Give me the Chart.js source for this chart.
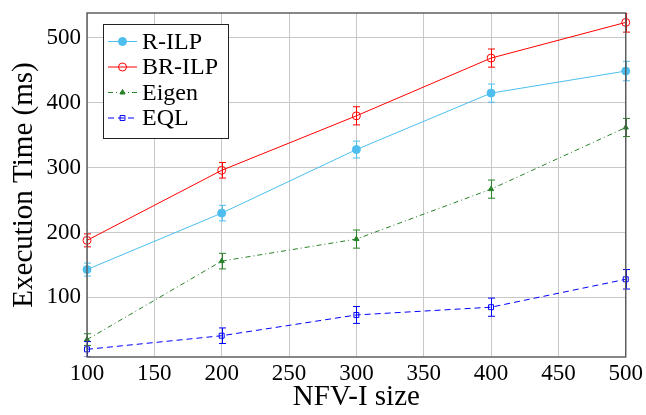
<!DOCTYPE html>
<html>
<head>
<meta charset="utf-8">
<script src="https://cdn.jsdelivr.net/npm/chart.js@4/dist/chart.umd.min.js"></script>
<style>
  html, body { margin: 0; padding: 0; background: #fff; }
  #wrap { width: 646px; height: 415px; }
</style>
</head>
<body>
<div id="wrap"><canvas id="chart" width="646" height="415"></canvas></div>
<script>
const sizes = [100, 200, 300, 400, 500];
const xTicks = [100, 150, 200, 250, 300, 350, 400, 450, 500];
const yTicks = [100, 200, 300, 400, 500];

const rIlp = [143, 230, 328, 415, 449];
const rIlpErr = [10, 12, 13, 14, 15];
const brIlp = [188, 296, 380, 469, 524];
const brIlpErr = [10, 12, 14, 14, 15];
const eigen = [35, 156, 190, 267, 362];
const eigenErr = [9, 12, 14, 14, 14];
const eql = [20, 41, 73, 85, 128];
const eqlErr = [12, 12, 13, 14, 15];

const FONT = "'Liberation Serif', 'DejaVu Serif', serif";

const toPoints = vals => vals.map((v, i) => ({x: sizes[i], y: v}));

// error bars drawn from the err arrays through the y scale
const errorBars = {
  id: 'errorBars',
  afterDatasetsDraw(chart) {
    const {ctx, chartArea, scales: {x, y}} = chart;
    ctx.save();
    ctx.beginPath();
    ctx.rect(chartArea.left - 6, chartArea.top, chartArea.right - chartArea.left + 12, chartArea.bottom - chartArea.top);
    ctx.clip();
    chart.data.datasets.forEach(ds => {
      ctx.strokeStyle = ds.borderColor;
      ctx.lineWidth = 1;
      ctx.setLineDash([]);
      ds.data.forEach((p, i) => {
        const e = ds.err[i];
        const px = Math.round(x.getPixelForValue(p.x)) + 0.5;
        const top = y.getPixelForValue(p.y + e);
        const bot = y.getPixelForValue(p.y - e);
        ctx.beginPath();
        ctx.moveTo(px, top); ctx.lineTo(px, bot);
        ctx.moveTo(px - 3.5, top); ctx.lineTo(px + 3.5, top);
        ctx.moveTo(px - 3.5, bot); ctx.lineTo(px + 3.5, bot);
        ctx.stroke();
      });
    });
    ctx.restore();
  }
};

function drawMarker(ctx, ds, cx, cy) {
  ctx.save();
  ctx.setLineDash([]);
  ctx.lineWidth = 1;
  ctx.strokeStyle = ds.pointBorderColor;
  ctx.fillStyle = ds.pointBackgroundColor;
  const r = ds.pointRadius;
  ctx.beginPath();
  if (ds.pointStyle === 'circle') {
    ctx.arc(cx, cy, r, 0, Math.PI * 2);
  } else if (ds.pointStyle === 'triangle') {
    ctx.moveTo(cx, cy - r);
    ctx.lineTo(cx + r * 0.87, cy + r * 0.5);
    ctx.lineTo(cx - r * 0.87, cy + r * 0.5);
    ctx.closePath();
  } else {
    ctx.rect(cx - r * 0.7, cy - r * 0.7, r * 1.4, r * 1.4);
  }
  ctx.fill();
  ctx.stroke();
  ctx.restore();
}

// frame around the plot and the legend box inside it
const frameAndLegend = {
  id: 'frameAndLegend',
  afterDraw(chart) {
    const {ctx, chartArea: a} = chart;
    ctx.save();
    ctx.strokeStyle = '#555';
    ctx.lineWidth = 1.4;
    ctx.strokeRect(a.left, a.top, a.right - a.left, a.bottom - a.top);

    const bx = a.left + 16, by = a.top + 11, bw = 125, bh = 114;
    ctx.fillStyle = '#fff';
    ctx.fillRect(bx, by, bw, bh);
    ctx.strokeStyle = '#222';
    ctx.lineWidth = 1;
    ctx.strokeRect(bx + 0.5, by + 0.5, bw, bh);

    chart.data.datasets.forEach((ds, i) => {
      const cy = by + 17.5 + i * 25.5;
      ctx.strokeStyle = ds.borderColor;
      ctx.lineWidth = 1;
      ctx.setLineDash(ds.borderDash || []);
      ctx.beginPath();
      ctx.moveTo(bx + 5, cy);
      ctx.lineTo(bx + 34, cy);
      ctx.stroke();
      drawMarker(ctx, ds, bx + 19.5, cy);
      ctx.setLineDash([]);
      ctx.fillStyle = '#000';
      ctx.font = `24px ${FONT}`;
      ctx.textBaseline = 'middle';
      ctx.fillText(ds.label, bx + 39, cy + 1);
    });
    ctx.restore();
  }
};

new Chart(document.getElementById('chart'), {
  type: 'line',
  data: {
    datasets: [
      {
        label: 'R-ILP',
        data: toPoints(rIlp),
        err: rIlpErr,
        borderColor: 'rgb(77,190,238)',
        pointBackgroundColor: 'rgb(77,190,238)',
        pointBorderColor: 'rgb(77,190,238)',
        pointStyle: 'circle',
        pointRadius: 4,
        borderWidth: 1
      },
      {
        label: 'BR-ILP',
        data: toPoints(brIlp),
        err: brIlpErr,
        borderColor: 'rgb(255,0,0)',
        pointBackgroundColor: 'rgba(255,255,255,0)',
        pointBorderColor: 'rgb(255,0,0)',
        pointStyle: 'circle',
        pointRadius: 4,
        borderWidth: 1
      },
      {
        label: 'Eigen',
        data: toPoints(eigen),
        err: eigenErr,
        borderColor: 'rgb(40,130,40)',
        pointBackgroundColor: 'rgb(40,130,40)',
        pointBorderColor: 'rgb(40,130,40)',
        pointStyle: 'triangle',
        pointRadius: 3,
        borderWidth: 1,
        borderDash: [5, 3, 1, 3]
      },
      {
        label: 'EQL',
        data: toPoints(eql),
        err: eqlErr,
        borderColor: 'rgb(0,0,255)',
        pointBackgroundColor: 'rgba(255,255,255,0)',
        pointBorderColor: 'rgb(0,0,255)',
        pointStyle: 'rect',
        pointRadius: 3.5,
        borderWidth: 1,
        borderDash: [6, 4]
      }
    ]
  },
  options: {
    responsive: false,
    animation: false,
    clip: false,
    layout: {
      padding: {left: 0, right: 16, top: 13, bottom: 0}
    },
    plugins: {
      legend: {display: false},
      tooltip: {enabled: false}
    },
    elements: {
      line: {tension: 0}
    },
    scales: {
      x: {
        type: 'linear',
        min: 100,
        max: 500,
        afterBuildTicks: axis => { axis.ticks = xTicks.map(v => ({value: v})); },
        afterFit: axis => { axis.height = 58; },
        grid: {color: 'rgb(200,200,200)', lineWidth: 1, drawTicks: false},
        border: {display: false},
        ticks: {color: '#000', padding: 3, font: {family: FONT, size: 23}, maxRotation: 0},
        title: {display: true, text: 'NFV-I size', color: '#000', padding: {top: -2, bottom: 0}, font: {family: FONT, size: 29}}
      },
      y: {
        min: 8.2,
        max: 538.5,
        afterBuildTicks: axis => { axis.ticks = yTicks.map(v => ({value: v})); },
        afterFit: axis => { axis.width = 87; },
        grid: {color: 'rgb(200,200,200)', lineWidth: 1, drawTicks: false},
        border: {display: false},
        ticks: {color: '#000', padding: 6, font: {family: FONT, size: 23, lineHeight: 0.6}},
        title: {display: true, text: 'Execution Time (ms)', color: '#000', padding: {top: 7, bottom: 0}, font: {family: FONT, size: 29}}
      }
    }
  },
  plugins: [errorBars, frameAndLegend]
});
</script>
</body>
</html>
